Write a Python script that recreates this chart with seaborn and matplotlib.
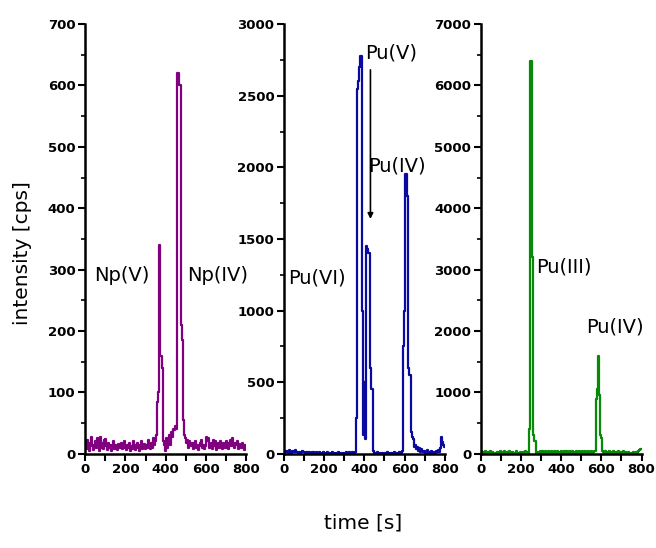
import numpy as np
import pandas as pd
import matplotlib
matplotlib.use("Agg")
import matplotlib.pyplot as plt
from matplotlib.ticker import MultipleLocator
import seaborn as sns

sns.set_theme(style="ticks")
plt.rcParams['font.family'] = ['DejaVu Sans']
plt.rcParams['text.color'] = 'black'
plt.rcParams['xtick.color'] = 'black'
plt.rcParams['ytick.color'] = 'black'

# time axis, 5 s steps
time_s = list(range(0, 805, 5))

np_counts = [
    15, 8, 22, 10, 5, 18, 28, 12, 6, 15, 20, 9, 25, 14, 5, 28, 10, 18, 7, 22,
    24, 12, 6, 18, 10, 15, 5, 12, 20, 8, 14, 10, 6, 16, 12, 9, 18, 7, 13, 20,
    10, 6, 14, 9, 18, 5, 12, 8, 20, 15, 6, 11, 18, 9, 5, 14, 20, 8, 12, 16,
    7, 15, 10, 22, 12, 8, 18, 10, 25, 14, 20, 30, 85, 100, 340, 160, 160, 140, 20, 15,
    5, 25, 10, 20, 30, 15, 35, 28, 40, 38, 45, 40, 620, 620, 600, 600, 210, 185, 55, 30,
    25, 18, 22, 10, 20, 15, 12, 18, 8, 14, 20, 10, 15, 6, 12, 18, 22, 9, 14, 8,
    12, 28, 20, 25, 10, 15, 18, 8, 22, 12, 20, 6, 15, 18, 10, 20, 14, 8, 18, 12,
    10, 20, 15, 8, 18, 22, 12, 25, 15, 10, 18, 14, 20, 8, 16, 12, 10, 18, 15, 6,
    15]

pu_ox_counts = [
    0, 10, 20, 15, 5, 25, 10, 5, 20, 15, 10, 25, 15, 10, 5, 15, 5, 10, 20, 15,
    10, 5, 15, 10, 5, 10, 0, 5, 10, 15, 5, 0, 10, 5, 0, 10, 5, 0, 5, 10,
    5, 0, 5, 10, 0, 5, 0, 5, 10, 0, 5, 0, 5, 0, 10, 5, 0, 5, 0, 5,
    0, 5, 10, 0, 5, 10, 0, 5, 10, 5, 0, 10, 250, 2550, 2600, 2700, 2780, 2780, 1000, 130,
    500, 100, 1450, 1430, 1400, 1400, 600, 450, 450, 20, 0, 5, 0, 10, 5, 0, 5, 0, 5, 0,
    5, 0, 5, 10, 0, 5, 0, 5, 0, 5, 10, 0, 5, 0, 5, 10, 0, 5, 20, 750,
    1000, 1950, 1950, 1800, 600, 550, 550, 150, 120, 100, 50, 60, 30, 50, 20, 40, 10, 30, 20, 10,
    20, 5, 10, 25, 0, 15, 5, 20, 10, 0, 15, 5, 20, 10, 25, 15, 40, 120, 80, 60,
    50]

pu_red_counts = [
    0, 40, 20, 30, 10, 40, 20, 0, 30, 10, 40, 20, 30, 10, 0, 20, 10, 30, 20, 10,
    40, 20, 30, 10, 40, 20, 0, 30, 20, 40, 10, 20, 30, 10, 20, 40, 10, 20, 0, 30,
    20, 10, 30, 20, 40, 20, 30, 10, 400, 6400, 6400, 3200, 300, 200, 200, 20, 30, 10, 20, 40,
    20, 40, 30, 20, 50, 30, 20, 40, 30, 20, 40, 30, 20, 50, 30, 20, 40, 30, 20, 30,
    40, 20, 30, 50, 20, 40, 30, 20, 40, 30, 20, 40, 30, 20, 30, 40, 20, 30, 40, 20,
    30, 40, 20, 30, 40, 20, 30, 40, 20, 30, 40, 20, 30, 40, 50, 900, 1050, 1600, 950, 300,
    250, 50, 30, 20, 40, 30, 20, 30, 40, 20, 30, 20, 40, 30, 20, 30, 20, 40, 30, 20,
    30, 20, 40, 20, 30, 20, 10, 30, 20, 0, 20, 10, 30, 20, 10, 30, 20, 40, 60, 80,
    80]

panels = [
    (np_counts, '#800080', 700, 100, [("Np(V)", 42, 290), ("Np(IV)", 505, 290)]),
    (pu_ox_counts, '#0a0aa0', 3000, 500, [("Pu(VI)", 22, 1230), ("Pu(V)", 402, 2800), ("Pu(IV)", 418, 2010)]),
    (pu_red_counts, '#078a07', 7000, 1000, [("Pu(III)", 274, 3050), ("Pu(IV)", 522, 2060)]),
]
lefts = [0.130, 0.433, 0.733]

fig = plt.figure(figsize=(6.56, 5.48), dpi=100)
fig.patch.set_facecolor('white')

for (counts, color, ymax, ystep, labels), left in zip(panels, lefts):
    ax = fig.add_axes([left, 0.172, 0.245, 0.784])
    df = pd.DataFrame({'time': time_s, 'counts': counts})
    sns.lineplot(data=df, x='time', y='counts', ax=ax, color=color, lw=1.6,
                 estimator=None, drawstyle='steps-mid')
    ax.set_xlim(0, 800)
    ax.set_ylim(0, ymax)
    ax.set_xlabel('')
    ax.set_ylabel('')
    ax.set_facecolor('white')
    ax.xaxis.set_major_locator(MultipleLocator(200))
    ax.xaxis.set_minor_locator(MultipleLocator(100))
    ax.yaxis.set_major_locator(MultipleLocator(ystep))
    ax.yaxis.set_minor_locator(MultipleLocator(ystep / 2))
    sns.despine(ax=ax)
    for sp in ['left', 'bottom']:
        ax.spines[sp].set_color('black')
        ax.spines[sp].set_linewidth(1.8)
    ax.tick_params(axis='both', which='major', direction='out', length=5, width=1.5,
                   color='black', labelcolor='black', labelsize=9.5, pad=2)
    ax.tick_params(axis='x', which='minor', direction='out', length=5, width=1.5, color='black')
    ax.tick_params(axis='y', which='minor', direction='out', length=3, width=1.2, color='black')
    for lab in ax.get_xticklabels() + ax.get_yticklabels():
        lab.set_fontweight('bold')
    for txt, x, y in labels:
        ax.text(x, y, txt, fontsize=14, ha='left', va='center', color='black', clip_on=False)
    if color == '#0a0aa0':
        ax.annotate('', xy=(430, 1620), xytext=(430, 2700),
                    arrowprops=dict(arrowstyle='-|>', color='black', lw=1.2,
                                    mutation_scale=8))

fig.text(0.035, 0.538, 'intensity [cps]', rotation=90, fontsize=14.5, ha='center', va='center')
fig.text(0.553, 0.045, 'time [s]', fontsize=14.5, ha='center', va='center')

fig.savefig('out.png', dpi=100)
